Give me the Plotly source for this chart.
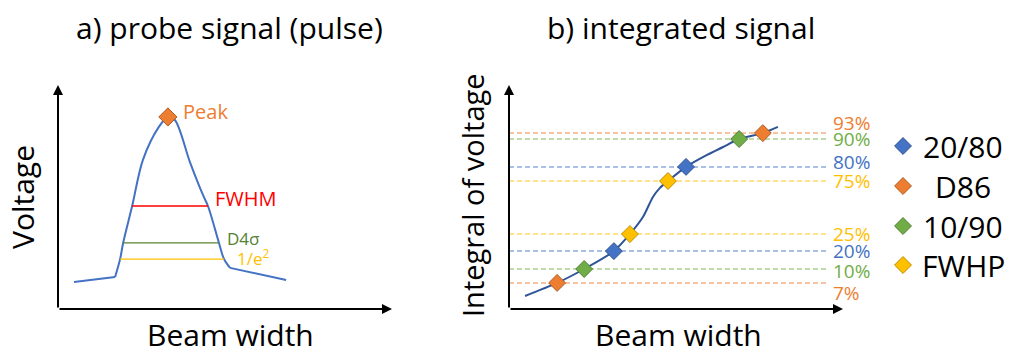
import plotly.graph_objects as go

# ---------------- data ----------------
# Panel a: probe signal (pulse)
pulse_x = [4.8, 17.1, 18.6, 19.5, 22.2, 25.4, 30.2, 32.9, 35.0, 39.5, 43.4, 44.9, 48.2, 49.7, 51.5, 68.3]
pulse_y = [12.2, 14.5, 22.6, 29.9, 46.6, 67.4, 82.4, 86.9, 85.5, 66.5, 51.6, 46.6, 29.9, 22.6, 18.6, 13.1]
peak_x = [32.9]
peak_y = [86.9]
width_names = ["FWHM", "D4σ", "1/e<sup>2</sup>"]
width_level = [46.6, 29.9, 22.6]
width_left = [22.2, 19.5, 18.6]
width_right = [44.9, 48.2, 49.7]

# Panel b: integrated signal
cum_x = [4.8, 14.4, 22.5, 31.4, 36.2, 40.1, 43.1, 45.2, 47.6, 53.0, 59.3, 64.1, 68.9, 76.0, 80.5]
cum_y = [5.9, 11.8, 18.1, 26.2, 33.9, 41.6, 50.7, 54.8, 57.9, 64.3, 69.7, 73.3, 76.9, 79.6, 82.4]
levels = [7, 10, 20, 25, 75, 80, 90, 93]
level_y = [11.8, 18.1, 26.2, 33.9, 57.9, 64.3, 76.9, 79.6]
level_x = [14.4, 22.5, 31.4, 36.2, 47.6, 53.0, 68.9, 76.0]
level_method = ["D86", "10/90", "20/80", "FWHP", "FWHP", "20/80", "10/90", "D86"]
legend_methods = ["20/80", "D86", "10/90", "FWHP"]

# ---------------- styles ----------------
FONT = "Open Sans"
W, H = 1011, 354
method_fill = {"20/80": "#4472C4", "D86": "#ED7D31", "10/90": "#70AD47", "FWHP": "#FFC000"}
method_edge = {"20/80": "#2F528F", "D86": "#AE5A21", "10/90": "#507E32", "FWHP": "#BC8C00"}
method_dash = {"20/80": "#8FAADC", "D86": "#F4B183", "10/90": "#A9D18E", "FWHP": "#FFD966"}
width_colors = ["#FF0000", "#548235", "#FFC000"]
width_text_size = [20, 17, 17]
label_shift = {93: 10, 80: 5, 10: -2, 7: -10}

# plot area pixels
A_X0, A_X1 = 58, 392
B_X0, B_X1 = 509, 843
Y_BOT, Y_TOP = 309, 88

fig = go.Figure()

# ---- panel a ----
fig.add_trace(go.Scatter(x=pulse_x[1:15], y=pulse_y[1:15], mode="lines",
                         line=dict(color="#4472C4", width=2, shape="spline", smoothing=0.9),
                         xaxis="x", yaxis="y", hoverinfo="skip"))
fig.add_trace(go.Scatter(x=pulse_x[0:2], y=pulse_y[0:2], mode="lines",
                         line=dict(color="#4472C4", width=2), xaxis="x", yaxis="y", hoverinfo="skip"))
fig.add_trace(go.Scatter(x=pulse_x[14:16], y=pulse_y[14:16], mode="lines",
                         line=dict(color="#4472C4", width=2), xaxis="x", yaxis="y", hoverinfo="skip"))
for name, lv, l, r, c in zip(width_names, width_level, width_left, width_right, width_colors):
    fig.add_trace(go.Scatter(x=[l, r], y=[lv, lv], mode="lines", line=dict(color=c, width=1.3),
                             xaxis="x", yaxis="y", hoverinfo="skip"))
fig.add_trace(go.Scatter(x=peak_x, y=peak_y, mode="markers",
                         marker=dict(symbol="diamond", size=14, color="#ED7D31",
                                     line=dict(color="#AE5A21", width=1)),
                         xaxis="x", yaxis="y", cliponaxis=False, hoverinfo="skip"))

# ---- panel b ----
for lv, ly in zip(levels, level_y):
    m = level_method[levels.index(lv)]
    fig.add_trace(go.Scatter(x=[0, 95.2], y=[ly, ly], mode="lines",
                             line=dict(color=method_dash[m], width=1.5, dash="5px,3px"),
                             xaxis="x2", yaxis="y2", hoverinfo="skip"))
fig.add_trace(go.Scatter(x=cum_x, y=cum_y, mode="lines",
                         line=dict(color="#2F5597", width=2, shape="spline", smoothing=0.8),
                         xaxis="x2", yaxis="y2", hoverinfo="skip"))
fig.add_trace(go.Scatter(x=level_x, y=level_y, mode="markers",
                         marker=dict(symbol="diamond", size=13,
                                     color=[method_fill[m] for m in level_method],
                                     line=dict(color=[method_edge[m] for m in level_method], width=1)),
                         xaxis="x2", yaxis="y2", cliponaxis=False, hoverinfo="skip"))

# legend (manual, on a full-figure overlay axis in pixel units)
leg_px_y = [146, 186, 226, 265]
fig.add_trace(go.Scatter(x=[903] * 4, y=leg_px_y, mode="markers",
                         marker=dict(symbol="diamond", size=13,
                                     color=[method_fill[m] for m in legend_methods],
                                     line=dict(color=[method_edge[m] for m in legend_methods], width=1)),
                         xaxis="x3", yaxis="y3", cliponaxis=False, hoverinfo="skip"))

by = lambda py: (Y_BOT - py) / (Y_BOT - Y_TOP) * 100

ann = []
# axis arrows
for xr, yr in (("x", "y"), ("x2", "y2")):
    ann.append(dict(xref=xr, yref=yr, axref=xr, ayref=yr, x=0, y=by(85), ax=0, ay=0, text="",
                    showarrow=True, arrowhead=2, arrowsize=1, arrowwidth=2, arrowcolor="black", standoff=0))
    ann.append(dict(xref=xr, yref=yr, axref=xr, ayref=yr, x=100, y=0, ax=0, ay=0, text="",
                    showarrow=True, arrowhead=2, arrowsize=1, arrowwidth=2, arrowcolor="black", standoff=0))

# panel a labels
ann.append(dict(xref="x", yref="y", x=peak_x[0] + 4.0, y=peak_y[0] + 2.5, text="Peak", showarrow=False,
                xanchor="left", yanchor="middle", font=dict(family=FONT, size=20, color="#ED7D31")))
lab_dx = [1.5, 1.8, 3.2]
lab_dy = [3.6, 2.2, 0.5]
for name, lv, r, c, s, dx, dy in zip(width_names, width_level, width_right, width_colors,
                                     width_text_size, lab_dx, lab_dy):
    ann.append(dict(xref="x", yref="y", x=r + dx, y=lv + dy, text=name, showarrow=False,
                    xanchor="left", yanchor="middle", font=dict(family=FONT, size=s, color=c)))

# panel b percent labels
for lv, ly in zip(levels, level_y):
    m = level_method[levels.index(lv)]
    ann.append(dict(xref="x2", yref="y2", x=96.4, y=ly, yshift=label_shift.get(lv, 0), text=f"{lv}%",
                    showarrow=False, xanchor="left", yanchor="middle",
                    font=dict(family=FONT, size=19, color=method_fill[m])))

# legend texts
for m, p in zip(legend_methods, leg_px_y):
    ann.append(dict(xref="paper", yref="paper", x=963 / W, y=1 - p / H, text=m, showarrow=False,
                    xanchor="center", yanchor="middle", font=dict(family=FONT, size=30, color="black")))

# titles & axis labels
def ptxt(x, y, t, size, angle=0, yanchor="middle", yshift=0):
    return dict(xref="paper", yref="paper", x=x / W, y=1 - y / H, text=t, showarrow=False,
                xanchor="center", yanchor=yanchor, textangle=angle, yshift=yshift,
                font=dict(family=FONT, size=size, color="black"))

ann.append(ptxt(229, 27, "a) probe signal (pulse)", 30))
ann.append(ptxt(681, 27, "b) integrated signal", 30))
ann.append(ptxt(22, 197, "Voltage", 30, -90))
ann.append(ptxt(230, H, "Beam width", 30, yanchor="bottom", yshift=-3))
ann.append(ptxt(472, 195, "Integral of voltage", 29, -90))
ann.append(ptxt(678, H, "Beam width", 30, yanchor="bottom", yshift=-3))

ax_common = dict(visible=False, range=[0, 100], fixedrange=True)
fig.update_layout(
    width=W, height=H, margin=dict(l=0, r=0, t=0, b=0),
    paper_bgcolor="white", plot_bgcolor="rgba(0,0,0,0)", showlegend=False,
    xaxis=dict(domain=[A_X0 / W, A_X1 / W], anchor="y", **ax_common),
    yaxis=dict(domain=[1 - Y_BOT / H, 1 - Y_TOP / H], anchor="x", **ax_common),
    xaxis2=dict(domain=[B_X0 / W, B_X1 / W], anchor="y2", **ax_common),
    yaxis2=dict(domain=[1 - Y_BOT / H, 1 - Y_TOP / H], anchor="x2", **ax_common),
    xaxis3=dict(domain=[0, 1], range=[0, W], anchor="y3", visible=False, fixedrange=True),
    yaxis3=dict(domain=[0, 1], range=[H, 0], anchor="x3", visible=False, fixedrange=True),
    annotations=ann,
)
fig.write_html("out.html", config={"displayModeBar": False})
